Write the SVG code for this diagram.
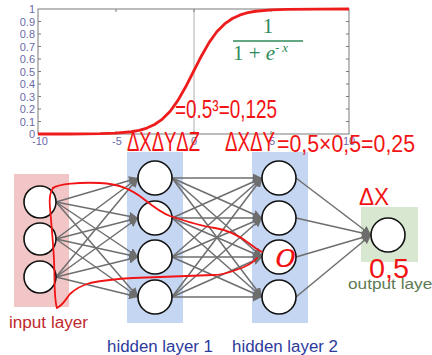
<svg xmlns="http://www.w3.org/2000/svg" width="432" height="355" viewBox="0 0 432 355">
<defs>
<style>
.ax{fill:none;stroke:#7a7a7a;stroke-width:1}
.tl{font-family:"Liberation Sans",Arial,sans-serif;font-size:11px;fill:#6a6aa8}
.hw{font-family:"Liberation Sans",Arial,sans-serif;fill:#f21414}
.hwl{fill:none;stroke:#f21414;stroke-width:1.8;stroke-linecap:round;stroke-linejoin:round}
.node{fill:#fff;stroke:#111;stroke-width:1.6}
.edge{stroke:#6e6e6e;stroke-width:1.5;marker-end:url(#ah)}
.lbl{font-family:"Liberation Sans",Arial,sans-serif;font-size:16px}
.fm{font-family:"Liberation Serif","Times New Roman",serif;fill:#2f8a5a}
</style>
<marker id="ah" viewBox="0 0 10 10" refX="10" refY="5" markerWidth="9" markerHeight="9" markerUnits="userSpaceOnUse" orient="auto">
<path d="M0,0 L10,5 L0,10 z" fill="#6e6e6e"/>
</marker>
</defs>
<rect width="432" height="355" fill="#fff"/>
<g id="plot">
<rect x="38" y="9" width="311" height="125" class="ax" fill="#fff"/>
<line x1="194" y1="9" x2="194" y2="134" stroke="#b0b0b0" stroke-width="1"/>
<path class="ax" d="M38,21.5h3M38,34h3M38,46.5h3M38,59h3M38,71.5h3M38,84h3M38,96.5h3M38,109h3M38,121.5h3M349,21.5h-3M349,34h-3M349,46.5h-3M349,59h-3M349,71.5h-3M349,84h-3M349,96.5h-3M349,109h-3M349,121.5h-3M116,9v3M194,9v3M271,9v3M116,134v-3M194,134v-3M271,134v-3"/>
<g class="tl" text-anchor="end">
<text x="35" y="13">1</text><text x="35" y="25.5">0.9</text><text x="35" y="38">0.8</text><text x="35" y="50.5">0.7</text><text x="35" y="63">0.6</text><text x="35" y="75.5">0.5</text><text x="35" y="88">0.4</text><text x="35" y="100.5">0.3</text><text x="35" y="113">0.2</text><text x="35" y="125.5">0.1</text><text x="35" y="138">0</text>
</g>
<g class="tl" text-anchor="middle">
<text x="40" y="145">-10</text><text x="117" y="145">-5</text><text x="194" y="145">0</text><text x="272" y="145">5</text><text x="349" y="145">10</text>
</g>
<polyline fill="none" stroke="#ee1c1c" stroke-width="2.8" stroke-linejoin="round" points="38,134 69.1,134 100.2,133.7 115.75,133.2 131.3,131.75 139.1,130.3 146.85,128.1 154.6,124.5 162.4,119.1 170.2,111.2 177.95,100.4 185.7,86.8 193.5,71.5 201.3,56.2 209.05,42.6 216.8,31.8 224.6,23.9 232.4,18.5 240.15,14.9 247.9,12.7 255.7,11.25 271.25,9.8 286.8,9.3 317.9,9.05 349,9"/>
<text class="fm" x="268" y="33" font-size="21" text-anchor="middle">1</text>
<line x1="233" y1="41" x2="303" y2="41" stroke="#2f8a5a" stroke-width="1.3"/>
<text class="fm" x="233" y="60" font-size="21">1 + <tspan font-style="italic">e</tspan><tspan font-size="12" dy="-8">- </tspan><tspan font-size="13" font-style="italic">x</tspan></text>
</g>
<g id="layers">
<rect x="14" y="174" width="55" height="133" fill="#f2c6c6"/>
<rect x="127" y="152" width="56" height="171" fill="#c4d6f2"/>
<rect x="252" y="152" width="56" height="171" fill="#c4d6f2"/>
<rect x="361" y="207" width="57" height="55" fill="#d8e8d0"/>
</g>
<g id="connectors">
<line class="edge" x1="56" y1="202" x2="138" y2="178"/><line class="edge" x1="56" y1="202" x2="138" y2="218"/><line class="edge" x1="56" y1="202" x2="138" y2="257"/><line class="edge" x1="56" y1="202" x2="138" y2="297"/>
<line class="edge" x1="56" y1="239" x2="138" y2="178"/><line class="edge" x1="56" y1="239" x2="138" y2="218"/><line class="edge" x1="56" y1="239" x2="138" y2="257"/><line class="edge" x1="56" y1="239" x2="138" y2="297"/>
<line class="edge" x1="56" y1="277" x2="138" y2="178"/><line class="edge" x1="56" y1="277" x2="138" y2="218"/><line class="edge" x1="56" y1="277" x2="138" y2="257"/><line class="edge" x1="56" y1="277" x2="138" y2="297"/>
<line class="edge" x1="172" y1="178" x2="262" y2="178"/><line class="edge" x1="172" y1="178" x2="262" y2="218"/><line class="edge" x1="172" y1="178" x2="262" y2="257"/><line class="edge" x1="172" y1="178" x2="262" y2="297"/>
<line class="edge" x1="172" y1="218" x2="262" y2="178"/><line class="edge" x1="172" y1="218" x2="262" y2="218"/><line class="edge" x1="172" y1="218" x2="262" y2="257"/><line class="edge" x1="172" y1="218" x2="262" y2="297"/>
<line class="edge" x1="172" y1="257" x2="262" y2="178"/><line class="edge" x1="172" y1="257" x2="262" y2="218"/><line class="edge" x1="172" y1="257" x2="262" y2="257"/><line class="edge" x1="172" y1="257" x2="262" y2="297"/>
<line class="edge" x1="172" y1="297" x2="262" y2="178"/><line class="edge" x1="172" y1="297" x2="262" y2="218"/><line class="edge" x1="172" y1="297" x2="262" y2="257"/><line class="edge" x1="172" y1="297" x2="262" y2="297"/>
<line class="edge" x1="296" y1="178" x2="371" y2="235"/><line class="edge" x1="296" y1="218" x2="371" y2="235"/><line class="edge" x1="296" y1="257" x2="371" y2="235"/><line class="edge" x1="296" y1="297" x2="371" y2="235"/>
</g>
<g id="in1"><circle class="node" cx="40" cy="202" r="16"/></g>
<g id="in2"><circle class="node" cx="40" cy="239" r="16"/></g>
<g id="in3"><circle class="node" cx="40" cy="277" r="16"/></g>
<g id="h1a"><circle class="node" cx="155" cy="178" r="17"/></g>
<g id="h1b"><circle class="node" cx="155" cy="218" r="17"/></g>
<g id="h1c"><circle class="node" cx="155" cy="257" r="17"/></g>
<g id="h1d"><circle class="node" cx="155" cy="297" r="17"/></g>
<g id="h2a"><circle class="node" cx="279" cy="178" r="17"/></g>
<g id="h2b"><circle class="node" cx="279" cy="218" r="17"/></g>
<g id="h2c"><circle class="node" cx="279" cy="257" r="17"/></g>
<g id="h2d"><circle class="node" cx="279" cy="297" r="17"/></g>
<g id="out"><circle class="node" cx="388" cy="235" r="17"/></g>
<g id="labels" class="lbl">
<text x="9" y="328" fill="#c0282d" textLength="79" lengthAdjust="spacingAndGlyphs">input layer</text>
<text x="107" y="352" fill="#2c3a9c" textLength="106" lengthAdjust="spacingAndGlyphs">hidden layer 1</text>
<text x="232" y="352" fill="#2c3a9c" textLength="106" lengthAdjust="spacingAndGlyphs">hidden layer 2</text>
<text x="348" y="289" fill="#5e7a52" font-size="14" textLength="90" lengthAdjust="spacingAndGlyphs">output layer</text>
</g>
<g id="handwriting">
<text class="hw" x="175" y="118" font-size="25" textLength="102" lengthAdjust="spacingAndGlyphs">=0.5³=0,125</text>
<text class="hw" x="127" y="151" font-size="27" textLength="73" lengthAdjust="spacingAndGlyphs">ΔXΔYΔZ</text>
<text class="hw" x="225" y="151" font-size="27" textLength="50" lengthAdjust="spacingAndGlyphs">ΔXΔY</text>
<text class="hw" x="277" y="152" font-size="24" textLength="138" lengthAdjust="spacingAndGlyphs">=0,5×0,5=0,25</text>
<text class="hw" x="359" y="205" font-size="24" textLength="30" lengthAdjust="spacingAndGlyphs">ΔX</text>
<text class="hw" x="369" y="278" font-size="27" textLength="40" lengthAdjust="spacingAndGlyphs">0,5</text>
<text class="hw" x="275" y="267" font-size="26" font-style="italic" textLength="20" lengthAdjust="spacingAndGlyphs">0</text>
<path class="hwl" d="M53,188 C58,184 80,182 100,183 C118,184 130,188 145,200 C155,208 162,213 170,216 C185,221 200,226 215,228 C228,230 240,236 250,244 C255,248 258,250 262,252"/>
<path class="hwl" d="M257,258 C252,264 246,267 236,270 C228,273 222,275 213,275 L133,278 C115,279 100,281 90,283 C80,286 74,290 70,294 C66,299 63,305 57,308 C54,300 55,285 54,260 C53,240 51,220 50,208 C49,198 50,192 53,188"/>
</g>
</svg>
